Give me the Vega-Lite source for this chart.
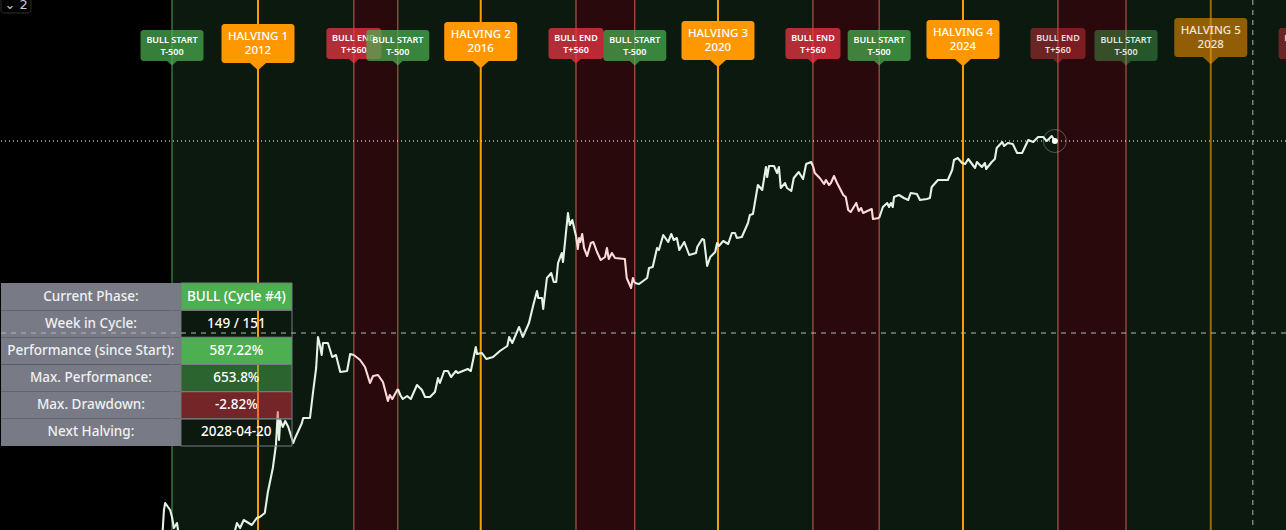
{"$schema":"https://vega.github.io/schema/vega-lite/v6.json","width":1286,"height":530,"padding":0,"autosize":{"type":"none"},"background":"#000000","config":{"view":{"stroke":null},"axis":{"disable":true},"text":{"font":"Noto Sans"}},
"datasets":{
"bands":[{"start":2011.52,"end":2014.46,"phase":"bull"},{"start":2014.46,"end":2015.17,"phase":"bear"},{"start":2015.17,"end":2018.05,"phase":"bull"},{"start":2018.05,"end":2019.0,"phase":"bear"},{"start":2019.0,"end":2021.88,"phase":"bull"},{"start":2021.88,"end":2022.95,"phase":"bear"},{"start":2022.95,"end":2025.84,"phase":"bull"},{"start":2025.84,"end":2026.94,"phase":"bear"},{"start":2026.94,"end":2029.6,"phase":"bull"}],
"flags":[
{"year":2011.52,"level":6.045,"kind":"start","when":"past","label":"BULL START\nT-500"},
{"year":2015.17,"level":6.045,"kind":"start","when":"past","label":"BULL START\nT-500"},
{"year":2019.0,"level":6.045,"kind":"start","when":"past","label":"BULL START\nT-500"},
{"year":2022.95,"level":6.045,"kind":"start","when":"past","label":"BULL START\nT-500"},
{"year":2026.94,"level":6.045,"kind":"start","when":"future","label":"BULL START\nT-500"},
{"year":2014.46,"level":6.065,"kind":"end","when":"past","label":"BULL END\nT+560"},
{"year":2018.05,"level":6.065,"kind":"end","when":"past","label":"BULL END\nT+560"},
{"year":2021.88,"level":6.065,"kind":"end","when":"past","label":"BULL END\nT+560"},
{"year":2025.84,"level":6.065,"kind":"end","when":"future","label":"BULL END\nT+560"},
{"year":2029.85,"level":6.065,"kind":"end","when":"future","label":"BULL END\nT+560"},
{"year":2012.91,"level":6.065,"kind":"halving","when":"past","label":"HALVING 1\n2012"},
{"year":2016.51,"level":6.085,"kind":"halving","when":"past","label":"HALVING 2\n2016"},
{"year":2020.345,"level":6.095,"kind":"halving","when":"past","label":"HALVING 3\n2020"},
{"year":2024.305,"level":6.105,"kind":"halving","when":"past","label":"HALVING 4\n2024"},
{"year":2028.31,"level":6.125,"kind":"halving","when":"future","label":"HALVING 5\n2028"}],
"table":[
{"row":"Current Phase:","value":"BULL (Cycle #4)","tone":"strong"},
{"row":"Week in Cycle:","value":"149 / 151","tone":"none"},
{"row":"Performance (since Start):","value":"587.22%","tone":"strong"},
{"row":"Max. Performance:","value":"653.8%","tone":"dimGreen"},
{"row":"Max. Drawdown:","value":"-2.82%","tone":"dimRed"},
{"row":"Next Halving:","value":"2028-04-20","tone":"none"}],
"last":[{"year":2025.79,"logPrice":5.09}],
"price":[
{"year":2011.33,"logPrice":0.5,"seg":"bull1"},{"year":2011.37,"logPrice":1.2,"seg":"bull1"},{"year":2011.39,"logPrice":1.4,"seg":"bull1"},{"year":2011.41,"logPrice":1.47,"seg":"bull1"},{"year":2011.49,"logPrice":1.4,"seg":"bull1"},{"year":2011.52,"logPrice":1.33,"seg":"bull1"},{"year":2011.55,"logPrice":1.22,"seg":"bull1"},{"year":2011.6,"logPrice":1.27,"seg":"bull1"},{"year":2011.63,"logPrice":1.15,"seg":"bull1"},{"year":2011.97,"logPrice":0.9,"seg":"bull1"},{"year":2012.46,"logPrice":0.9,"seg":"bull1"},{"year":2012.52,"logPrice":1.15,"seg":"bull1"},{"year":2012.57,"logPrice":1.27,"seg":"bull1"},{"year":2012.62,"logPrice":1.22,"seg":"bull1"},{"year":2012.68,"logPrice":1.3,"seg":"bull1"},{"year":2012.81,"logPrice":1.25,"seg":"bull1"},{"year":2012.89,"logPrice":1.32,"seg":"bull1"},{"year":2012.94,"logPrice":1.33,"seg":"bull1"},{"year":2013.02,"logPrice":1.37,"seg":"bull1"},{"year":2013.07,"logPrice":1.58,"seg":"bull1"},{"year":2013.15,"logPrice":1.82,"seg":"bull1"},{"year":2013.2,"logPrice":2.05,"seg":"bull1"},{"year":2013.23,"logPrice":2.38,"seg":"bull1"},{"year":2013.25,"logPrice":2.1,"seg":"bull1"},{"year":2013.27,"logPrice":2.3,"seg":"bull1"},{"year":2013.31,"logPrice":2.23,"seg":"bull1"},{"year":2013.35,"logPrice":2.29,"seg":"bull1"},{"year":2013.4,"logPrice":2.23,"seg":"bull1"},{"year":2013.48,"logPrice":2.07,"seg":"bull1"},{"year":2013.51,"logPrice":2.12,"seg":"bull1"},{"year":2013.62,"logPrice":2.27,"seg":"bull1"},{"year":2013.64,"logPrice":2.32,"seg":"bull1"},{"year":2013.75,"logPrice":2.32,"seg":"bull1"},{"year":2013.8,"logPrice":2.58,"seg":"bull1"},{"year":2013.85,"logPrice":2.82,"seg":"bull1"},{"year":2013.88,"logPrice":3.13,"seg":"bull1"},{"year":2013.91,"logPrice":3.05,"seg":"bull1"},{"year":2013.94,"logPrice":2.95,"seg":"bull1"},{"year":2013.96,"logPrice":3.07,"seg":"bull1"},{"year":2014.04,"logPrice":3.07,"seg":"bull1"},{"year":2014.11,"logPrice":2.93,"seg":"bull1"},{"year":2014.17,"logPrice":2.95,"seg":"bull1"},{"year":2014.24,"logPrice":2.78,"seg":"bull1"},{"year":2014.35,"logPrice":2.79,"seg":"bull1"},{"year":2014.4,"logPrice":2.96,"seg":"bull1"},{"year":2014.46,"logPrice":2.95,"seg":"bull1"},
{"year":2014.46,"logPrice":2.95,"seg":"bear1"},{"year":2014.56,"logPrice":2.9,"seg":"bear1"},{"year":2014.64,"logPrice":2.83,"seg":"bear1"},{"year":2014.72,"logPrice":2.67,"seg":"bear1"},{"year":2014.77,"logPrice":2.74,"seg":"bear1"},{"year":2014.85,"logPrice":2.75,"seg":"bear1"},{"year":2014.93,"logPrice":2.68,"seg":"bear1"},{"year":2015.01,"logPrice":2.49,"seg":"bear1"},{"year":2015.04,"logPrice":2.55,"seg":"bear1"},{"year":2015.08,"logPrice":2.51,"seg":"bear1"},{"year":2015.17,"logPrice":2.61,"seg":"bear1"},
{"year":2015.17,"logPrice":2.61,"seg":"bull2"},{"year":2015.21,"logPrice":2.55,"seg":"bull2"},{"year":2015.25,"logPrice":2.51,"seg":"bull2"},{"year":2015.32,"logPrice":2.54,"seg":"bull2"},{"year":2015.38,"logPrice":2.51,"seg":"bull2"},{"year":2015.48,"logPrice":2.65,"seg":"bull2"},{"year":2015.56,"logPrice":2.6,"seg":"bull2"},{"year":2015.61,"logPrice":2.53,"seg":"bull2"},{"year":2015.69,"logPrice":2.53,"seg":"bull2"},{"year":2015.77,"logPrice":2.58,"seg":"bull2"},{"year":2015.82,"logPrice":2.72,"seg":"bull2"},{"year":2015.85,"logPrice":2.67,"seg":"bull2"},{"year":2015.92,"logPrice":2.79,"seg":"bull2"},{"year":2015.98,"logPrice":2.79,"seg":"bull2"},{"year":2016.03,"logPrice":2.73,"seg":"bull2"},{"year":2016.11,"logPrice":2.79,"seg":"bull2"},{"year":2016.14,"logPrice":2.77,"seg":"bull2"},{"year":2016.3,"logPrice":2.81,"seg":"bull2"},{"year":2016.35,"logPrice":2.79,"seg":"bull2"},{"year":2016.43,"logPrice":3.03,"seg":"bull2"},{"year":2016.45,"logPrice":2.96,"seg":"bull2"},{"year":2016.53,"logPrice":2.97,"seg":"bull2"},{"year":2016.6,"logPrice":2.91,"seg":"bull2"},{"year":2016.71,"logPrice":2.93,"seg":"bull2"},{"year":2016.82,"logPrice":2.99,"seg":"bull2"},{"year":2016.94,"logPrice":3.04,"seg":"bull2"},{"year":2016.97,"logPrice":3.13,"seg":"bull2"},{"year":2017.02,"logPrice":3.07,"seg":"bull2"},{"year":2017.13,"logPrice":3.23,"seg":"bull2"},{"year":2017.19,"logPrice":3.13,"seg":"bull2"},{"year":2017.29,"logPrice":3.27,"seg":"bull2"},{"year":2017.36,"logPrice":3.45,"seg":"bull2"},{"year":2017.42,"logPrice":3.59,"seg":"bull2"},{"year":2017.44,"logPrice":3.52,"seg":"bull2"},{"year":2017.5,"logPrice":3.52,"seg":"bull2"},{"year":2017.52,"logPrice":3.41,"seg":"bull2"},{"year":2017.58,"logPrice":3.72,"seg":"bull2"},{"year":2017.65,"logPrice":3.77,"seg":"bull2"},{"year":2017.69,"logPrice":3.68,"seg":"bull2"},{"year":2017.73,"logPrice":3.68,"seg":"bull2"},{"year":2017.76,"logPrice":3.87,"seg":"bull2"},{"year":2017.82,"logPrice":3.97,"seg":"bull2"},{"year":2017.84,"logPrice":3.88,"seg":"bull2"},{"year":2017.92,"logPrice":4.37,"seg":"bull2"},{"year":2017.95,"logPrice":4.25,"seg":"bull2"},{"year":2017.99,"logPrice":4.3,"seg":"bull2"},{"year":2018.05,"logPrice":4.14,"seg":"bull2"},
{"year":2018.05,"logPrice":4.14,"seg":"bear2"},{"year":2018.08,"logPrice":4.01,"seg":"bear2"},{"year":2018.1,"logPrice":4.12,"seg":"bear2"},{"year":2018.12,"logPrice":4.08,"seg":"bear2"},{"year":2018.15,"logPrice":4.16,"seg":"bear2"},{"year":2018.18,"logPrice":4.02,"seg":"bear2"},{"year":2018.23,"logPrice":3.94,"seg":"bear2"},{"year":2018.29,"logPrice":4.07,"seg":"bear2"},{"year":2018.33,"logPrice":4.08,"seg":"bear2"},{"year":2018.39,"logPrice":3.98,"seg":"bear2"},{"year":2018.45,"logPrice":3.9,"seg":"bear2"},{"year":2018.52,"logPrice":3.93,"seg":"bear2"},{"year":2018.55,"logPrice":4.02,"seg":"bear2"},{"year":2018.58,"logPrice":3.91,"seg":"bear2"},{"year":2018.63,"logPrice":3.97,"seg":"bear2"},{"year":2018.68,"logPrice":3.92,"seg":"bear2"},{"year":2018.84,"logPrice":3.91,"seg":"bear2"},{"year":2018.87,"logPrice":3.72,"seg":"bear2"},{"year":2018.94,"logPrice":3.62,"seg":"bear2"},{"year":2018.97,"logPrice":3.72,"seg":"bear2"},{"year":2019.0,"logPrice":3.67,"seg":"bear2"},
{"year":2019.0,"logPrice":3.67,"seg":"bull3"},{"year":2019.07,"logPrice":3.66,"seg":"bull3"},{"year":2019.2,"logPrice":3.72,"seg":"bull3"},{"year":2019.23,"logPrice":3.82,"seg":"bull3"},{"year":2019.29,"logPrice":3.83,"seg":"bull3"},{"year":2019.36,"logPrice":4.02,"seg":"bull3"},{"year":2019.39,"logPrice":4.0,"seg":"bull3"},{"year":2019.46,"logPrice":4.15,"seg":"bull3"},{"year":2019.54,"logPrice":4.08,"seg":"bull3"},{"year":2019.59,"logPrice":4.16,"seg":"bull3"},{"year":2019.63,"logPrice":4.1,"seg":"bull3"},{"year":2019.68,"logPrice":4.12,"seg":"bull3"},{"year":2019.72,"logPrice":4.0,"seg":"bull3"},{"year":2019.8,"logPrice":4.08,"seg":"bull3"},{"year":2019.88,"logPrice":3.95,"seg":"bull3"},{"year":2019.99,"logPrice":3.97,"seg":"bull3"},{"year":2020.01,"logPrice":4.03,"seg":"bull3"},{"year":2020.09,"logPrice":4.11,"seg":"bull3"},{"year":2020.12,"logPrice":4.1,"seg":"bull3"},{"year":2020.17,"logPrice":3.84,"seg":"bull3"},{"year":2020.22,"logPrice":3.93,"seg":"bull3"},{"year":2020.3,"logPrice":3.98,"seg":"bull3"},{"year":2020.33,"logPrice":4.07,"seg":"bull3"},{"year":2020.36,"logPrice":4.04,"seg":"bull3"},{"year":2020.43,"logPrice":4.09,"seg":"bull3"},{"year":2020.51,"logPrice":4.06,"seg":"bull3"},{"year":2020.57,"logPrice":4.17,"seg":"bull3"},{"year":2020.62,"logPrice":4.17,"seg":"bull3"},{"year":2020.65,"logPrice":4.12,"seg":"bull3"},{"year":2020.73,"logPrice":4.13,"seg":"bull3"},{"year":2020.83,"logPrice":4.27,"seg":"bull3"},{"year":2020.86,"logPrice":4.35,"seg":"bull3"},{"year":2020.91,"logPrice":4.36,"seg":"bull3"},{"year":2020.99,"logPrice":4.65,"seg":"bull3"},{"year":2021.06,"logPrice":4.6,"seg":"bull3"},{"year":2021.12,"logPrice":4.83,"seg":"bull3"},{"year":2021.14,"logPrice":4.73,"seg":"bull3"},{"year":2021.17,"logPrice":4.84,"seg":"bull3"},{"year":2021.25,"logPrice":4.84,"seg":"bull3"},{"year":2021.3,"logPrice":4.77,"seg":"bull3"},{"year":2021.33,"logPrice":4.83,"seg":"bull3"},{"year":2021.36,"logPrice":4.62,"seg":"bull3"},{"year":2021.43,"logPrice":4.67,"seg":"bull3"},{"year":2021.46,"logPrice":4.62,"seg":"bull3"},{"year":2021.53,"logPrice":4.59,"seg":"bull3"},{"year":2021.57,"logPrice":4.72,"seg":"bull3"},{"year":2021.65,"logPrice":4.78,"seg":"bull3"},{"year":2021.72,"logPrice":4.71,"seg":"bull3"},{"year":2021.77,"logPrice":4.86,"seg":"bull3"},{"year":2021.85,"logPrice":4.88,"seg":"bull3"},{"year":2021.88,"logPrice":4.84,"seg":"bull3"},
{"year":2021.88,"logPrice":4.84,"seg":"bear3"},{"year":2021.91,"logPrice":4.77,"seg":"bear3"},{"year":2021.99,"logPrice":4.72,"seg":"bear3"},{"year":2022.06,"logPrice":4.66,"seg":"bear3"},{"year":2022.09,"logPrice":4.7,"seg":"bear3"},{"year":2022.14,"logPrice":4.65,"seg":"bear3"},{"year":2022.17,"logPrice":4.67,"seg":"bear3"},{"year":2022.22,"logPrice":4.74,"seg":"bear3"},{"year":2022.27,"logPrice":4.67,"seg":"bear3"},{"year":2022.37,"logPrice":4.55,"seg":"bear3"},{"year":2022.41,"logPrice":4.53,"seg":"bear3"},{"year":2022.45,"logPrice":4.4,"seg":"bear3"},{"year":2022.49,"logPrice":4.38,"seg":"bear3"},{"year":2022.58,"logPrice":4.47,"seg":"bear3"},{"year":2022.62,"logPrice":4.39,"seg":"bear3"},{"year":2022.66,"logPrice":4.42,"seg":"bear3"},{"year":2022.69,"logPrice":4.37,"seg":"bear3"},{"year":2022.83,"logPrice":4.41,"seg":"bear3"},{"year":2022.85,"logPrice":4.31,"seg":"bear3"},{"year":2022.95,"logPrice":4.32,"seg":"bear3"},
{"year":2022.95,"logPrice":4.32,"seg":"bull4"},{"year":2023.01,"logPrice":4.43,"seg":"bull4"},{"year":2023.08,"logPrice":4.47,"seg":"bull4"},{"year":2023.11,"logPrice":4.43,"seg":"bull4"},{"year":2023.14,"logPrice":4.47,"seg":"bull4"},{"year":2023.17,"logPrice":4.43,"seg":"bull4"},{"year":2023.19,"logPrice":4.53,"seg":"bull4"},{"year":2023.27,"logPrice":4.55,"seg":"bull4"},{"year":2023.35,"logPrice":4.52,"seg":"bull4"},{"year":2023.42,"logPrice":4.5,"seg":"bull4"},{"year":2023.46,"logPrice":4.57,"seg":"bull4"},{"year":2023.56,"logPrice":4.56,"seg":"bull4"},{"year":2023.61,"logPrice":4.5,"seg":"bull4"},{"year":2023.72,"logPrice":4.51,"seg":"bull4"},{"year":2023.77,"logPrice":4.52,"seg":"bull4"},{"year":2023.8,"logPrice":4.63,"seg":"bull4"},{"year":2023.9,"logPrice":4.7,"seg":"bull4"},{"year":2024.06,"logPrice":4.7,"seg":"bull4"},{"year":2024.13,"logPrice":4.8,"seg":"bull4"},{"year":2024.16,"logPrice":4.9,"seg":"bull4"},{"year":2024.22,"logPrice":4.92,"seg":"bull4"},{"year":2024.29,"logPrice":4.87,"seg":"bull4"},{"year":2024.34,"logPrice":4.86,"seg":"bull4"},{"year":2024.39,"logPrice":4.91,"seg":"bull4"},{"year":2024.5,"logPrice":4.82,"seg":"bull4"},{"year":2024.53,"logPrice":4.88,"seg":"bull4"},{"year":2024.61,"logPrice":4.83,"seg":"bull4"},{"year":2024.66,"logPrice":4.87,"seg":"bull4"},{"year":2024.68,"logPrice":4.81,"seg":"bull4"},{"year":2024.77,"logPrice":4.88,"seg":"bull4"},{"year":2024.82,"logPrice":4.91,"seg":"bull4"},{"year":2024.85,"logPrice":5.02,"seg":"bull4"},{"year":2024.94,"logPrice":5.08,"seg":"bull4"},{"year":2024.97,"logPrice":5.04,"seg":"bull4"},{"year":2025.03,"logPrice":5.07,"seg":"bull4"},{"year":2025.11,"logPrice":5.06,"seg":"bull4"},{"year":2025.18,"logPrice":4.97,"seg":"bull4"},{"year":2025.26,"logPrice":4.97,"seg":"bull4"},{"year":2025.36,"logPrice":5.1,"seg":"bull4"},{"year":2025.44,"logPrice":5.08,"seg":"bull4"},{"year":2025.52,"logPrice":5.13,"seg":"bull4"},{"year":2025.6,"logPrice":5.13,"seg":"bull4"},{"year":2025.66,"logPrice":5.09,"seg":"bull4"},{"year":2025.74,"logPrice":5.14,"seg":"bull4"},{"year":2025.79,"logPrice":5.09,"seg":"bull4"}]
},
"resolve":{"scale":{"y":"independent"}},
"layer":[
{"layer":[
{"data":{"name":"bands"},"transform":[{"filter":"datum.phase==='bull'"}],"mark":{"type":"rect","fill":"#0c190f","clip":true},"encoding":{"x":{"field":"start","type":"quantitative","scale":{"domain":[2008.74,2029.526],"nice":false,"zero":false}},"x2":{"field":"end"},"y":{"datum":1.2,"type":"quantitative","scale":{"domain":[1.2,6.5],"nice":false,"zero":false}},"y2":{"datum":6.5}}},
{"data":{"name":"bands"},"transform":[{"filter":"datum.phase==='bear'"}],"mark":{"type":"rect","fill":"#29090b","clip":true},"encoding":{"x":{"field":"start","type":"quantitative"},"x2":{"field":"end"},"y":{"datum":1.2,"type":"quantitative"},"y2":{"datum":6.5}}},
{"data":{"name":"flags"},"transform":[{"filter":"datum.kind!=='halving' && datum.year>2012 && datum.year<2029"}],"mark":{"type":"rule","stroke":"#cf5f55","strokeWidth":1,"clip":true},"encoding":{"x":{"field":"year","type":"quantitative"}}},
{"data":{"name":"flags"},"transform":[{"filter":"datum.kind==='start' && datum.year<2012"}],"mark":{"type":"rule","stroke":"#46a84b","strokeWidth":1},"encoding":{"x":{"field":"year","type":"quantitative"}}},
{"data":{"name":"flags"},"transform":[{"filter":"datum.kind==='halving'"}],"mark":{"type":"rule","stroke":"#f59f0a","strokeWidth":2},"encoding":{"x":{"field":"year","type":"quantitative"},"opacity":{"condition":{"test":"datum.when==='future'","value":0.6},"value":1}}},
{"data":{"name":"price"},"mark":{"type":"line","strokeWidth":2.1,"clip":true,"strokeJoin":"round"},"encoding":{"x":{"field":"year","type":"quantitative"},"y":{"field":"logPrice","type":"quantitative"},"order":{"field":"year"},"stroke":{"field":"seg","type":"nominal","legend":null,"scale":{"domain":["bull1","bear1","bull2","bear2","bull3","bear3","bull4"],"range":["#e3f3e4","#ffd9d9","#e3f3e4","#ffd9d9","#e3f3e4","#ffd9d9","#e3f3e4"]}}}},
{"data":{"name":"flags"},"transform":[{"filter":"datum.kind==='end'"}],"layer":[
{"mark":{"type":"rect","fill":"#f23645","width":55,"height":31,"cornerRadius":3,"clip":true},"encoding":{"x":{"field":"year","type":"quantitative"},"y":{"field":"level","type":"quantitative"},"opacity":{"condition":{"test":"datum.when==='future'","value":0.42},"value":0.72}}},
{"mark":{"type":"point","shape":"M-1,0L1,0L0,0.9Z","filled":true,"fill":"#f23645","size":100,"yOffset":15.5,"stroke":null},"encoding":{"x":{"field":"year","type":"quantitative"},"y":{"field":"level","type":"quantitative"},"opacity":{"condition":{"test":"datum.when==='future'","value":0.42},"value":0.72}}},
{"mark":{"type":"text","fill":"#ffffff","fontSize":9,"font":"Noto Sans","fontWeight":600,"lineBreak":"\n","lineHeight":12,"dy":-6,"align":"center","baseline":"middle","clip":true},"encoding":{"x":{"field":"year","type":"quantitative"},"y":{"field":"level","type":"quantitative"},"text":{"field":"label"},"opacity":{"condition":{"test":"datum.when==='future'","value":0.85},"value":1}}}]},
{"data":{"name":"flags"},"transform":[{"filter":"datum.kind==='start'"}],"layer":[
{"mark":{"type":"rect","fill":"#4caf50","width":63,"height":31,"cornerRadius":3},"encoding":{"x":{"field":"year","type":"quantitative"},"y":{"field":"level","type":"quantitative"},"opacity":{"condition":{"test":"datum.when==='future'","value":0.42},"value":0.72}}},
{"mark":{"type":"point","shape":"M-1,0L1,0L0,0.9Z","filled":true,"fill":"#4caf50","size":100,"yOffset":15.5,"stroke":null},"encoding":{"x":{"field":"year","type":"quantitative"},"y":{"field":"level","type":"quantitative"},"opacity":{"condition":{"test":"datum.when==='future'","value":0.42},"value":0.72}}},
{"mark":{"type":"text","fill":"#ffffff","fontSize":9,"font":"Noto Sans","fontWeight":600,"lineBreak":"\n","lineHeight":12,"dy":-6,"align":"center","baseline":"middle"},"encoding":{"x":{"field":"year","type":"quantitative"},"y":{"field":"level","type":"quantitative"},"text":{"field":"label"},"opacity":{"condition":{"test":"datum.when==='future'","value":0.85},"value":1}}}]},
{"data":{"name":"flags"},"transform":[{"filter":"datum.kind==='halving'"}],"layer":[
{"mark":{"type":"rect","fill":"#ff9800","width":73,"height":39,"cornerRadius":3},"encoding":{"x":{"field":"year","type":"quantitative"},"y":{"field":"level","type":"quantitative"},"opacity":{"condition":{"test":"datum.when==='future'","value":0.55},"value":1}}},
{"mark":{"type":"point","shape":"M-1,0L1,0L0,0.9Z","filled":true,"fill":"#ff9800","size":256,"yOffset":19.5,"stroke":null},"encoding":{"x":{"field":"year","type":"quantitative"},"y":{"field":"level","type":"quantitative"},"opacity":{"condition":{"test":"datum.when==='future'","value":0.55},"value":1}}},
{"mark":{"type":"text","fill":"#ffffff","fontSize":11.5,"font":"Noto Sans","fontWeight":500,"lineBreak":"\n","lineHeight":14,"dy":-7,"align":"center","baseline":"middle"},"encoding":{"x":{"field":"year","type":"quantitative"},"y":{"field":"level","type":"quantitative"},"text":{"field":"label"},"opacity":{"condition":{"test":"datum.when==='future'","value":0.85},"value":1}}}]},
{"data":{"name":"last"},"mark":{"type":"rule","stroke":"#ffffff","strokeWidth":1,"strokeDash":[1,3]},"encoding":{"y":{"field":"logPrice","type":"quantitative"}}},
{"data":{"name":"last"},"mark":{"type":"point","filled":false,"stroke":"#ffffff","strokeOpacity":0.4,"strokeWidth":1,"size":530},"encoding":{"x":{"field":"year","type":"quantitative"},"y":{"field":"logPrice","type":"quantitative"}}},
{"data":{"name":"last"},"mark":{"type":"point","filled":true,"fill":"#ffffff","opacity":1,"size":36,"stroke":null},"encoding":{"x":{"field":"year","type":"quantitative"},"y":{"field":"logPrice","type":"quantitative"}}},
{"data":{"values":[{"control":"⌄ 2"}]},"mark":{"type":"rect","fill":"#000000","stroke":"#2e2e2e","cornerRadius":3},"encoding":{"x":{"datum":2008.756,"type":"quantitative"},"x2":{"datum":2009.24},"y":{"datum":6.37,"type":"quantitative"},"y2":{"datum":6.52}}},
{"data":{"values":[{"control":"⌄ 2"}]},"mark":{"type":"text","fill":"#c8cad2","fontSize":13,"font":"DejaVu Sans","align":"center","baseline":"middle"},"encoding":{"x":{"datum":2009.0,"type":"quantitative"},"y":{"datum":6.45,"type":"quantitative"},"text":{"field":"control"}}}
]},
{"data":{"name":"table"},"encoding":{"y":{"field":"row","type":"nominal","sort":null,"scale":{"domain":["Current Phase:","Week in Cycle:","Performance (since Start):","Max. Performance:","Max. Drawdown:","Next Halving:"],"range":[283,446],"paddingInner":0,"paddingOuter":0}}},"layer":[
{"mark":{"type":"rect","fill":"#787b86"},"encoding":{"x":{"datum":2008.756,"type":"quantitative"},"x2":{"datum":2011.665}}},
{"mark":{"type":"rect","stroke":"#787b86","strokeWidth":1},"encoding":{"x":{"datum":2011.665,"type":"quantitative"},"x2":{"datum":2013.46},"fill":{"field":"tone","type":"nominal","legend":null,"scale":{"domain":["strong","none","dimGreen","dimRed"],"range":["#4caf50","rgba(0,0,0,0.0)","rgba(76,175,80,0.5)","rgba(242,54,69,0.45)"]}}}},
{"mark":{"type":"text","fill":"#f0f0f2","fontSize":13.5,"fontWeight":500,"font":"Noto Sans","align":"center","baseline":"middle"},"encoding":{"x":{"datum":2010.21,"type":"quantitative"},"text":{"field":"row"}}},
{"mark":{"type":"text","fill":"#ffffff","fontSize":13.5,"fontWeight":500,"font":"Noto Sans","align":"center","baseline":"middle"},"encoding":{"x":{"datum":2012.56,"type":"quantitative"},"text":{"field":"value"}}}
]},
{"data":{"values":[{"crosshairPrice":3.17,"crosshairYear":2028.99}]},"layer":[
{"mark":{"type":"rule","stroke":"#b2b5be","strokeWidth":1,"strokeDash":[5,5]},"encoding":{"y":{"field":"crosshairPrice","type":"quantitative","scale":{"domain":[1.2,6.5],"nice":false,"zero":false}}}},
{"mark":{"type":"rule","stroke":"#b2b5be","strokeWidth":1,"strokeDash":[5,5]},"encoding":{"x":{"field":"crosshairYear","type":"quantitative"}}}
]}
]}
